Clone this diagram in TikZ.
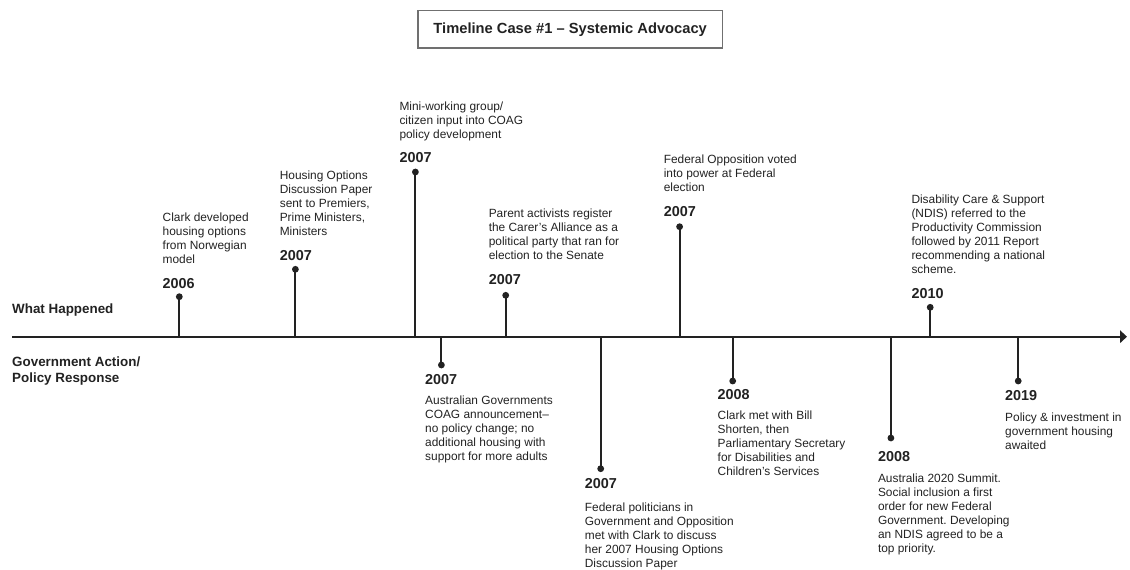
\documentclass[tikz,border=0pt]{standalone}
\usepackage{fontspec}
\setmainfont{Liberation Sans}
\usetikzlibrary{arrows.meta}
\definecolor{ink}{HTML}{222222}
\definecolor{frame}{HTML}{707070}
\frenchspacing
\begin{document}
\begin{tikzpicture}[x=1pt,y=-1pt,
  every node/.style={inner sep=0pt, text=ink},
  % multi-line blocks are placed by the baseline of their last line
  body/.style={anchor=base west, align=left, font=\fontsize{11.9}{14}\selectfont},
  year/.style={anchor=base west, font=\fontsize{14.4}{16}\selectfont\bfseries},
  side/.style={anchor=base west, align=left, font=\fontsize{13.4}{16}\selectfont\bfseries},
  dot/.style={circle, fill=ink, minimum size=6.8pt},
  stem/.style={draw=ink, line width=1.9pt},
  axis/.style={draw=ink, line width=2pt, -{Triangle[length=7pt,width=12.5pt]}},
  titlebox/.style={draw=frame, line width=1.3pt, minimum width=304.5pt, minimum height=37.3pt,
    font=\fontsize{14.7}{17}\selectfont\bfseries}
]
\useasboundingbox (0,0) rectangle (1130,570);

% title
\node[titlebox] (title) at (570.2,29.4) {Timeline Case \#1 – Systemic Advocacy};

% row labels
\node[side] (what) at (12,313) {What Happened};
\node[side] (gov) at (12,382.5) {Government Action/\\Policy Response};

% main time axis
\coordinate (axs) at (12,336.7);
\coordinate (axe) at (1127,336.7);
\draw[axis] (axs) -- (axe);

% ---- events above the axis ----
% 2006
\coordinate (bA) at (179.3,336.7);
\node[dot] (dA) at (179.3,296.7) {};
\draw[stem] (dA.center) -- (bA);
\node[year] (yA) at (162.5,288.5) {2006};
\node[body] (tA) at (162.5,263.5) {Clark developed\\housing options\\from Norwegian\\model};

% 2007 discussion paper
\coordinate (bB) at (295.4,336.7);
\node[dot] (dB) at (295.4,269.3) {};
\draw[stem] (dB.center) -- (bB);
\node[year] (yB) at (279.6,260.9) {2007};
\node[body] (tB) at (279.6,235.8) {Housing Options\\Discussion Paper\\sent to Premiers,\\Prime Ministers,\\Ministers};

% 2007 mini-working group
\coordinate (bC) at (415.4,336.7);
\node[dot] (dC) at (415.4,172) {};
\draw[stem] (dC.center) -- (bC);
\node[year] (yC) at (399.3,162.9) {2007};
\node[body] (tC) at (399.3,138.1) {Mini-working group/\\citizen input into COAG\\policy development};

% 2007 carers alliance
\coordinate (bD) at (505.7,336.7);
\node[dot] (dD) at (505.7,295.3) {};
\draw[stem] (dD.center) -- (bD);
\node[year] (yD) at (488.6,284.2) {2007};
\node[body] (tD) at (488.6,259.1) {Parent activists register\\the Carer’s Alliance as a\\political party that ran for\\election to the Senate};

% 2007 federal election
\coordinate (bE) at (679.6,336.7);
\node[dot] (dE) at (679.6,226.7) {};
\draw[stem] (dE.center) -- (bE);
\node[year] (yE) at (663.6,216.5) {2007};
\node[body] (tE) at (663.6,191.8) {Federal Opposition voted\\into power at Federal\\election};

% 2010
\coordinate (bF) at (930.2,336.7);
\node[dot] (dF) at (930.2,307.3) {};
\draw[stem] (dF.center) -- (bF);
\node[year] (yF) at (911.3,298.5) {2010};
\node[body] (tF) at (911.3,273.5) {Disability Care \& Support\\(NDIS) referred to the\\Productivity Commission\\followed by 2011 Report\\recommending a national\\scheme.};

% ---- government responses below the axis ----
% 2007 COAG
\coordinate (bG) at (441.4,336.7);
\node[dot] (dG) at (441.4,365) {};
\draw[stem] (bG) -- (dG.center);
\node[year] (yG) at (425,384.2) {2007};
\node[body] (tG) at (425,460.8) {Australian Governments\\COAG announcement–\\no policy change; no\\additional housing with\\support for more adults};

% 2007 federal politicians
\coordinate (bH) at (600.7,336.7);
\node[dot] (dH) at (600.7,468.7) {};
\draw[stem] (bH) -- (dH.center);
\node[year] (yH) at (584.7,488.5) {2007};
\node[body] (tH) at (584.7,567.1) {Federal politicians in\\Government and Opposition\\met with Clark to discuss\\her 2007 Housing Options\\Discussion Paper};

% 2008 Bill Shorten
\coordinate (bI) at (732.7,336.7);
\node[dot] (dI) at (732.7,381) {};
\draw[stem] (bI) -- (dI.center);
\node[year] (yI) at (717.5,399.2) {2008};
\node[body] (tI) at (717.5,475.5) {Clark met with Bill\\Shorten, then\\Parliamentary Secretary\\for Disabilities and\\Children’s Services};

% 2008 summit
\coordinate (bJ) at (890.9,336.7);
\node[dot] (dJ) at (890.9,438) {};
\draw[stem] (bJ) -- (dJ.center);
\node[year] (yJ) at (877.8,461.9) {2008};
\node[body] (tJ) at (877.8,552.8) {Australia 2020 Summit.\\Social inclusion a first\\order for new Federal\\Government. Developing\\an NDIS agreed to be a\\top priority.};

% 2019
\coordinate (bK) at (1018.2,336.7);
\node[dot] (dK) at (1018.2,381) {};
\draw[stem] (bK) -- (dK.center);
\node[year] (yK) at (1005,400.9) {2019};
\node[body] (tK) at (1005,449.5) {Policy \& investment in\\government housing\\awaited};
\end{tikzpicture}
\end{document}
